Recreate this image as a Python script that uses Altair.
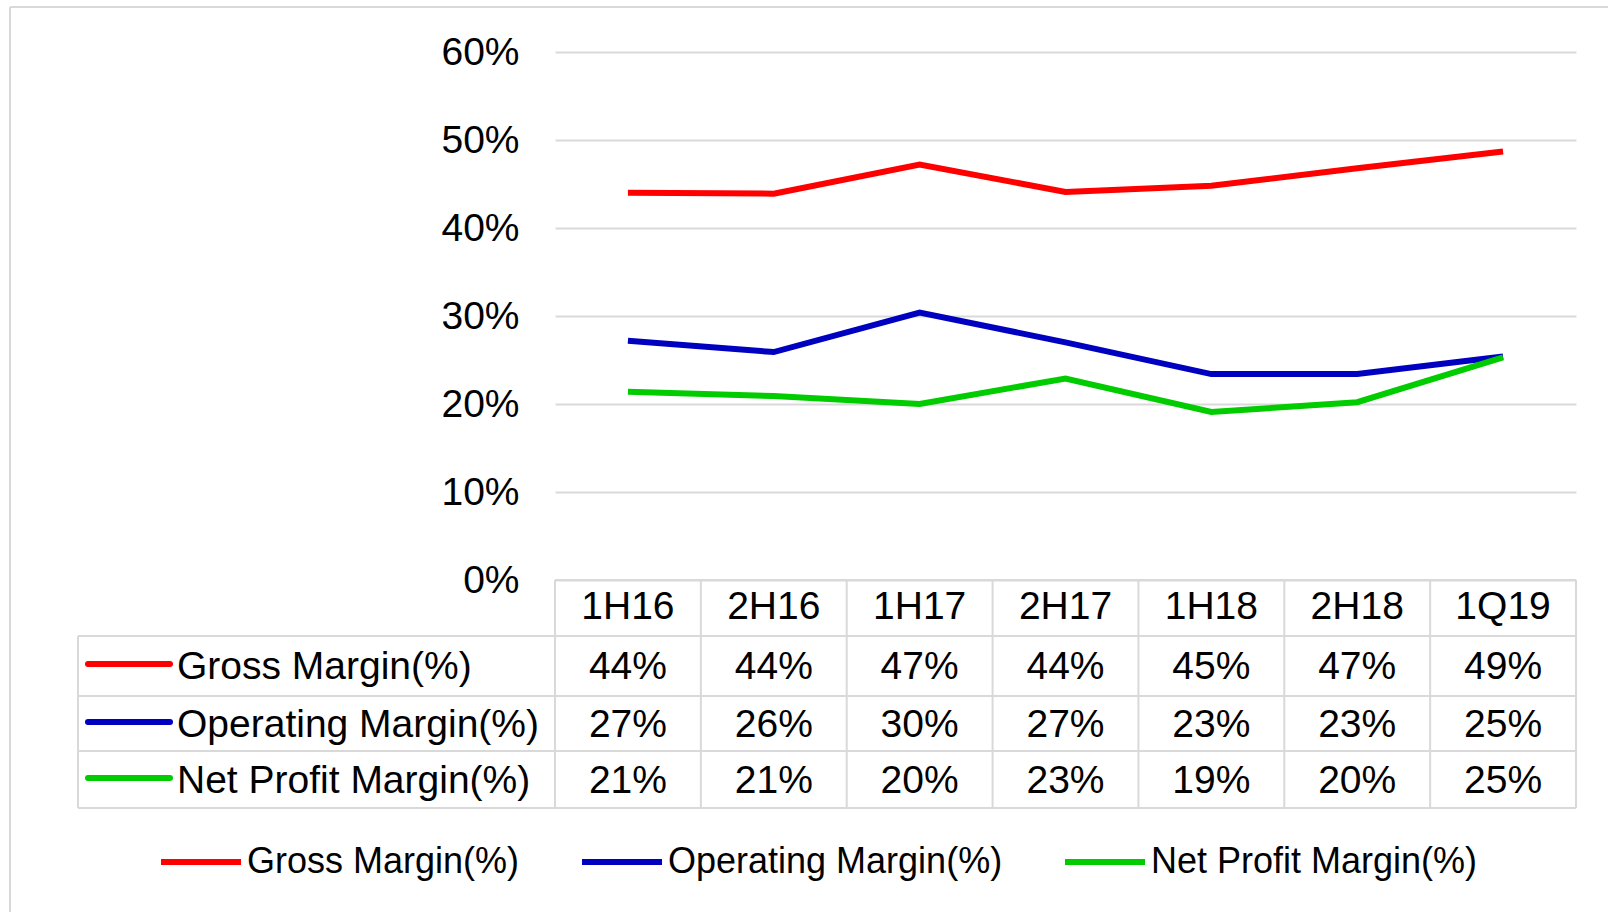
import altair as alt
import pandas as pd

# ---------------- data ----------------
categories = ["1H16", "2H16", "1H17", "2H17", "1H18", "2H18", "1Q19"]
series_names = ["Gross Margin(%)", "Operating Margin(%)", "Net Profit Margin(%)"]
gross = [0.440, 0.439, 0.472, 0.441, 0.448, 0.468, 0.487]
operating = [0.272, 0.259, 0.304, 0.270, 0.234, 0.234, 0.254]
net = [0.214, 0.209, 0.200, 0.229, 0.191, 0.202, 0.253]
colors = ["#FF0000", "#0000C0", "#00CC00"]
y_ticks = [0, 0.1, 0.2, 0.3, 0.4, 0.5, 0.6]

# ---------------- layout / style ----------------
W, H = 1021, 528
FONT = "Liberation Sans"
FS = 39
LEG_FS = 36
GRID = "#D9D9D9"
LW = 6
LEFT_X = -477                      # left edge of the table label column
HEADER_Y = 555
ROW_Y = [615, 673, 729]            # centres of the value rows
ROW_LINES = [584, 644, 699, 756]   # horizontal table borders

rows = []
for s, vals in zip(series_names, [gross, operating, net]):
    for i, (c, v) in enumerate(zip(categories, vals)):
        rows.append({"cat": c, "pos": i + 0.5, "series": s, "value": v})
df = pd.DataFrame(rows)
cat_df = pd.DataFrame({"cat": categories, "pos": [i + 0.5 for i in range(len(categories))]})
edge_df = pd.DataFrame({"edge": list(range(len(categories) + 1))})


def one():
    return pd.DataFrame({"k": [0]})


x_scale = alt.Scale(domain=[0, len(categories)], nice=False, zero=False)
y_scale = alt.Scale(domain=[0, 0.6], nice=False)
color_scale = alt.Scale(domain=series_names, range=colors)

X = alt.X("pos:Q", scale=x_scale, axis=None)

layers = []

# outer frame (light border)
layers.append(alt.Chart(one()).mark_rule(color=GRID, strokeWidth=2).encode(
    x=alt.value(-545), y=alt.value(-45), y2=alt.value(H + 332)))
layers.append(alt.Chart(one()).mark_rule(color=GRID, strokeWidth=2).encode(
    x=alt.value(-545), x2=alt.value(W + 32), y=alt.value(-45)))

# lines (one layer per series so Net is drawn on top)
for s in series_names:
    layers.append(
        alt.Chart(df).transform_filter(alt.datum.series == s).mark_line(strokeWidth=LW).encode(
            x=X,
            y=alt.Y("value:Q", scale=y_scale,
                    axis=alt.Axis(values=y_ticks, format=".0%", grid=True, gridColor=GRID,
                                  gridWidth=2, domain=False, ticks=False, labelFont=FONT,
                                  labelFontSize=FS, labelPadding=36, labelColor="black",
                                  title=None)),
            color=alt.Color("series:N", scale=color_scale, sort=series_names,
                            legend=alt.Legend(orient="none", legendX=-397, legendY=767,
                                              direction="horizontal", symbolType="stroke",
                                              symbolSize=6400, symbolStrokeWidth=LW,
                                              labelFont=FONT, labelFontSize=LEG_FS,
                                              labelColor="black", labelLimit=1000,
                                              columnPadding=50, labelOffset=3, title=None)),
        )
    )

# table borders
layers.append(alt.Chart(edge_df).mark_rule(color=GRID, strokeWidth=2).encode(
    x=alt.X("edge:Q", scale=x_scale, axis=None), y=alt.value(H), y2=alt.value(ROW_LINES[-1])))
layers.append(alt.Chart(one()).mark_rule(color=GRID, strokeWidth=2).encode(
    x=alt.value(0), x2=alt.value(W), y=alt.value(H)))
for yl in ROW_LINES:
    layers.append(alt.Chart(one()).mark_rule(color=GRID, strokeWidth=2).encode(
        x=alt.value(LEFT_X), x2=alt.value(W), y=alt.value(yl)))
layers.append(alt.Chart(one()).mark_rule(color=GRID, strokeWidth=2).encode(
    x=alt.value(LEFT_X), y=alt.value(ROW_LINES[0]), y2=alt.value(ROW_LINES[-1])))

# header row
layers.append(alt.Chart(cat_df).mark_text(font=FONT, fontSize=FS, color="black",
                                          align="center", baseline="middle").encode(
    x=X, y=alt.value(HEADER_Y), text="cat:N"))

# value rows + row labels
for s, c, yc in zip(series_names, colors, ROW_Y):
    layers.append(
        alt.Chart(df).transform_filter(alt.datum.series == s)
        .mark_text(font=FONT, fontSize=FS, color="black", align="center", baseline="middle")
        .encode(x=X, y=alt.value(yc), text=alt.Text("value:Q", format=".0%"))
    )
    layers.append(alt.Chart(one()).mark_rule(color=c, strokeWidth=LW, strokeCap="round").encode(
        x=alt.value(-467), x2=alt.value(-385), y=alt.value(yc - 3)))
    layers.append(alt.Chart(pd.DataFrame({"series": [s]})).mark_text(
        font=FONT, fontSize=FS, color="black", align="left", baseline="middle").encode(
        x=alt.value(-378), y=alt.value(yc), text="series:N"))

chart = alt.layer(*layers).properties(
    width=W, height=H,
    autosize=alt.AutoSizeParams(type="none"),
    padding={"left": 555, "top": 52, "right": 32, "bottom": 332},
    background="white",
).configure_view(stroke=None)

chart.save("out.html", embed_options={"renderer": "svg", "actions": False})
